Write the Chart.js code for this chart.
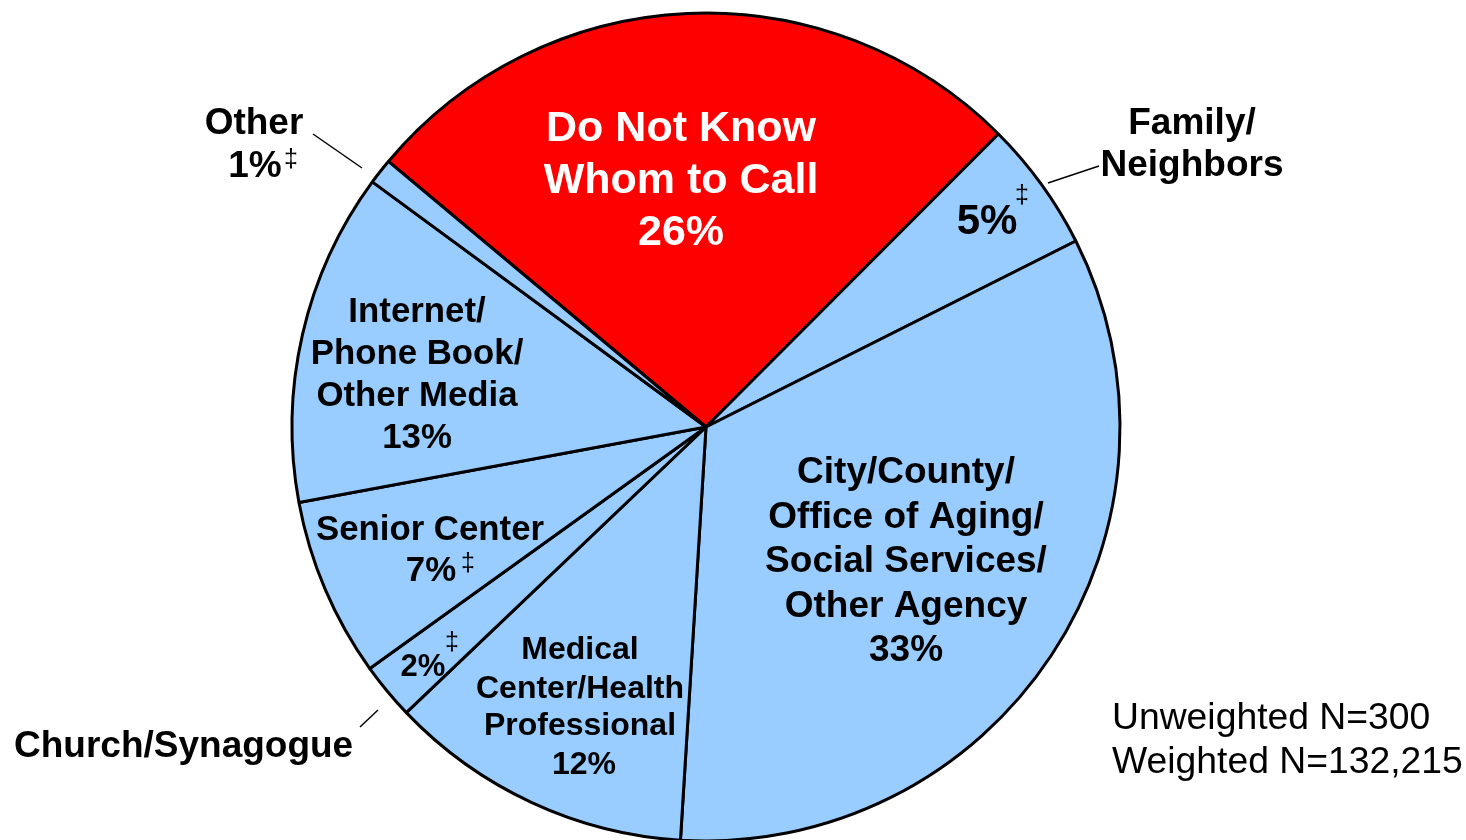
<!DOCTYPE html>
<html>
<head>
<meta charset="utf-8">
<script src="https://cdn.jsdelivr.net/npm/chart.js@4.4.1/dist/chart.umd.min.js"></script>
<style>
  html, body { margin: 0; padding: 0; background: #ffffff; overflow: hidden; }
  #wrap { width: 1466px; height: 840px; overflow: hidden; position: relative; }
  canvas { display: block; }
</style>
</head>
<body>
<div id="wrap"><canvas id="c" width="1466" height="860"></canvas></div>
<script>
// ---- data ----
const categories = [
  "Do Not Know Whom to Call",
  "Family/Neighbors",
  "City/County/Office of Aging/Social Services/Other Agency",
  "Medical Center/Health Professional",
  "Church/Synagogue",
  "Senior Center",
  "Internet/Phone Book/Other Media",
  "Other"
];
const values = [26.4, 5.1, 33.4, 11.9, 2.2, 7.0, 13.0, 1.0];
const percentLabels = ["26%", "5%", "33%", "12%", "2%", "7%", "13%", "1%"];
const sliceColors = ["#FF0000", "#99CCFF", "#99CCFF", "#99CCFF", "#99CCFF", "#99CCFF", "#99CCFF", "#99CCFF"];
const sampleNotes = ["Unweighted N=300", "Weighted N=132,215"];

// ---- label layout (reference pixel coords; scaled relative to pie center/radius) ----
const REF = { cx: 706, cy: 427, r: 414 };
const BOLD = "bold", NORMAL = "normal";
const FONT = "'Liberation Sans', Arial, Helvetica, sans-serif";
const labelBlocks = [
  { lines: ["Do Not Know", "Whom to Call", percentLabels[0]], x: 681, ys: [126, 178, 230], size: 43, color: "#FFFFFF" },
  { lines: [percentLabels[1]], x: 987, ys: [219], size: 42, color: "#000000", dagger: [1022, 196] },
  { lines: ["Family/", "Neighbors"], x: 1192, ys: [121, 163], size: 37, color: "#000000" },
  { lines: ["City/County/", "Office of Aging/", "Social Services/", "Other Agency", percentLabels[2]], x: 906, ys: [470, 515, 559, 604, 648], size: 37, color: "#000000" },
  { lines: ["Medical", "Center/Health", "Professional"], x: 580, ys: [648, 687, 724], size: 32, color: "#000000" },
  { lines: [percentLabels[3]], x: 584, ys: [763], size: 32, color: "#000000" },
  { lines: [percentLabels[4]], x: 423, ys: [665], size: 31, color: "#000000", dagger: [452, 643] },
  { lines: ["Church/Synagogue"], x: 14, ys: [744], size: 37, color: "#000000", align: "left" },
  { lines: ["Senior Center"], x: 430, ys: [528], size: 34.8, color: "#000000" },
  { lines: [percentLabels[5]], x: 431, ys: [569], size: 34.8, color: "#000000", dagger: [468, 564] },
  { lines: ["Internet/", "Phone Book/", "Other Media", percentLabels[6]], x: 417, ys: [310, 352, 394, 436], size: 34.8, color: "#000000" },
  { lines: ["Other"], x: 254, ys: [121], size: 37, color: "#000000" },
  { lines: [percentLabels[7]], x: 255, ys: [164], size: 37, color: "#000000", dagger: [291, 160] },
  { lines: sampleNotes, x: 1112, ys: [716, 760], size: 37.3, color: "#000000", align: "left", weight: NORMAL }
];
const leaders = [
  [313, 134, 362, 168],
  [1048, 183, 1099, 166],
  [360, 727, 378, 710]
];

const labelPlugin = {
  id: "sliceLabels",
  afterDatasetsDraw(chart) {
    const arc = chart.getDatasetMeta(0).data[0];
    if (!arc) return;
    const cx = arc.x, cy = arc.y, r = arc.outerRadius;
    const k = r / REF.r;
    const X = (x) => cx + (x - REF.cx) * k;
    const Y = (y) => cy + (y - REF.cy) * k;
    const ctx = chart.ctx;
    ctx.save();
    ctx.strokeStyle = "#000000";
    ctx.lineWidth = 1.5;
    leaders.forEach(l => {
      ctx.beginPath();
      ctx.moveTo(X(l[0]), Y(l[1]));
      ctx.lineTo(X(l[2]), Y(l[3]));
      ctx.stroke();
    });
    labelBlocks.forEach(b => {
      const size = b.size * k;
      ctx.font = (b.weight || BOLD) + " " + size + "px " + FONT;
      ctx.fillStyle = b.color;
      ctx.textAlign = b.align || "center";
      ctx.textBaseline = "alphabetic";
      b.lines.forEach((t, i) => {
        ctx.fillText(t, X(b.x), Y(b.ys[i]) + 0.358 * size);
      });
      if (b.dagger) {
        const ds = 25 * k;
        ctx.font = "normal " + ds + "px " + FONT;
        ctx.textAlign = "center";
        ctx.textBaseline = "middle";
        ctx.fillStyle = "#000000";
        ctx.fillText("\u2021", X(b.dagger[0]), Y(b.dagger[1]));
      }
    });
    ctx.restore();
  }
};

new Chart(document.getElementById("c"), {
  type: "pie",
  data: {
    labels: categories,
    datasets: [{
      data: values,
      backgroundColor: sliceColors,
      borderColor: "#000000",
      borderWidth: 3,
      hoverOffset: 0
    }]
  },
  options: {
    responsive: false,
    animation: false,
    devicePixelRatio: 1,
    rotation: -50.1,
    layout: { padding: { left: 290.5, right: 344.5, top: 11.5, bottom: 17.5 } },
    plugins: {
      legend: { display: false },
      tooltip: { enabled: false },
      title: { display: false }
    }
  },
  plugins: [labelPlugin]
});
</script>
</body>
</html>
